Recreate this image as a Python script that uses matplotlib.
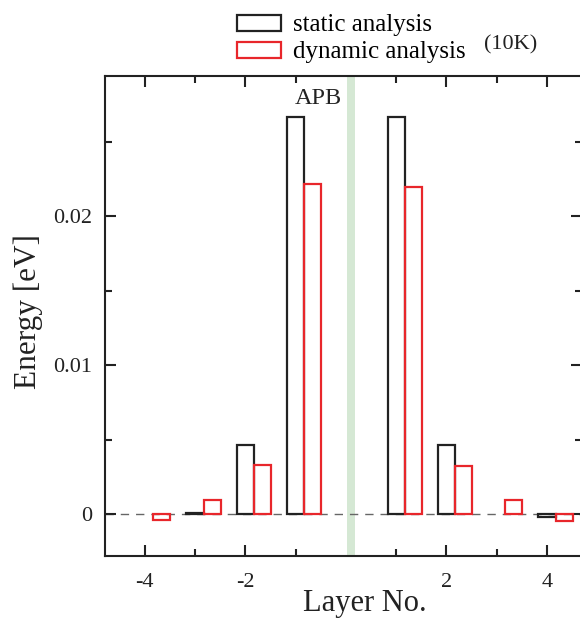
import numpy as np
import matplotlib.pyplot as plt
from matplotlib.ticker import FixedLocator, FixedFormatter

plt.rcParams['font.family'] = ['Liberation Serif', 'DejaVu Serif']

# layer numbers and energies (nan = no bar drawn)
layers = np.array([-4, -3, -2, -1, 1, 2, 3, 4])
static_E = [np.nan, 0.0001, 0.00463, 0.02664, 0.02664, 0.00463, np.nan, -0.0002]
dynamic_E = [-0.0004, 0.00094, 0.00331, 0.02215, 0.02197, 0.00322, 0.00094, -0.00045]

fig = plt.figure(figsize=(5.8, 6.2), dpi=100)
ax = fig.add_axes([0.181, 0.103, 0.822, 0.774])

w = 0.34
ax.axvspan(0.02, 0.19, color='#d5e8d4', zorder=0, lw=0)
ax.axhline(0, color='#666666', lw=1, ls=(0, (6, 5)), zorder=1)
ax.bar(layers, static_E, width=w, fill=False, edgecolor='#222222', lw=1.6,
       label='static analysis', zorder=3)
ax.bar(layers + w, dynamic_E, width=w, fill=False, edgecolor='#e8262b', lw=1.6,
       label='dynamic analysis', zorder=3)

ax.set_xlim(-4.79, 4.69)
ax.set_ylim(-0.0028, 0.0294)

ax.xaxis.set_major_locator(FixedLocator([-4, -2, 2, 4]))
ax.xaxis.set_major_formatter(FixedFormatter(['-4', '-2', '2', '4']))
ax.xaxis.set_minor_locator(FixedLocator([-3, -1, 1, 3]))
ax.yaxis.set_major_locator(FixedLocator([0, 0.01, 0.02]))
ax.yaxis.set_major_formatter(FixedFormatter(['0', '0.01', '0.02']))
ax.yaxis.set_minor_locator(FixedLocator([0.005, 0.015, 0.025]))
ax.tick_params(which='both', direction='in', top=True, right=True,
               width=1.5, labelsize=16, colors='#222222')
ax.tick_params(which='major', length=8)
ax.tick_params(axis='x', which='major', pad=12)
ax.tick_params(axis='y', which='major', pad=9)
ax.tick_params(which='minor', length=5)
for s in ax.spines.values():
    s.set_linewidth(1.5)
    s.set_color('#222222')

ax.set_xlabel('Layer No.', fontsize=22, color='#222222')
ax.xaxis.set_label_coords(0.545, -0.068)
ax.set_ylabel('Energy [eV]', fontsize=22.5, color='#222222')
ax.yaxis.set_label_coords(-0.13, 0.51)

ax.text(-0.55, 0.0279, 'APB', fontsize=17.5, ha='center', va='center', color='#222222')
fig.text(0.881, 0.928, '(10K)', fontsize=16, ha='center', va='center', color='#222222')

fig.legend(loc='upper left', bbox_to_anchor=(0.37, 1.013), frameon=False,
           fontsize=18, handlelength=1.75, handleheight=0.6, labelspacing=0.2,
           handletextpad=0.5)

fig.savefig('out.png', dpi=100)
